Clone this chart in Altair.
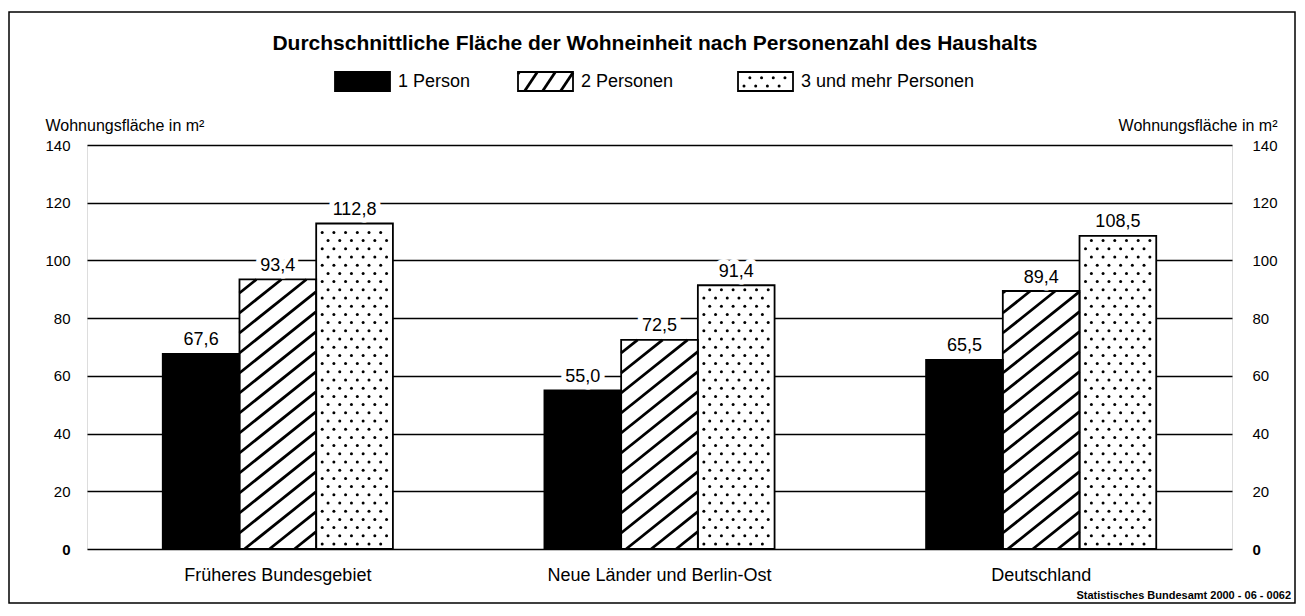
import json
import pandas as pd
import altair as alt

# ---------------- data ----------------
categories = ["Früheres Bundesgebiet", "Neue Länder und Berlin-Ost", "Deutschland"]
series = ["1 Person", "2 Personen", "3 und mehr Personen"]
values_1_person = [67.6, 55.0, 65.5]
values_2_personen = [93.4, 72.5, 89.4]
values_3_personen = [112.8, 91.4, 108.5]
y_ticks = [0, 20, 40, 60, 80, 100, 120, 140]

title_text = "Durchschnittliche Fläche der Wohneinheit nach Personenzahl des Haushalts"
axis_title = "Wohnungsfläche in m²"
source_text = "Statistisches Bundesamt 2000 - 06 - 0062"

# ---------------- layout ----------------
FONT = "Liberation Sans"
W, H = 1145, 404
PAD = {"left": 79, "top": 137, "right": 64, "bottom": 55}
YMAX = 140
NGROUPS = len(categories)
PXX = W / NGROUPS          # px per x unit
PXY = H / YMAX             # px per y unit
BAR_W = 0.201              # bar width in group units
fills = ["black", "white", "white"]
patterns = ["solid", "hatch", "dots"]


def stripe_segments(w_px, h_px, slope, step, phase):
    out = []
    for k in range(-80, 120):
        c = phase + k * step
        xs = max(0.0, -c / slope)
        xe = min(w_px, (h_px - c) / slope)
        if xe - xs > 1.0:
            out.append((xs, slope * xs + c, xe, slope * xe + c))
    return out


def dot_points(w_px, h_px, dx, dy, x_first, y_first):
    pts = []
    r = 0
    yy = y_first
    while yy < h_px - 2:
        xx = x_first + (dx / 2 if r % 2 else 0)
        while xx < w_px - 3:
            pts.append((xx, yy))
            xx += dx
        yy += dy
        r += 1
    return pts


all_values = [values_1_person, values_2_personen, values_3_personen]
rows, hatch_rows, dot_rows = [], [], []
for gi, cat in enumerate(categories):
    for si, s in enumerate(series):
        v = all_values[si][gi]
        c = gi + 0.5 + (si - 1) * BAR_W
        x0 = c - BAR_W / 2
        rows.append(dict(category=cat, series=s, value=v, base=0.0,
                         x0=x0, x1=c + BAR_W / 2, xc=c,
                         label=f"{v:.1f}".replace(".", ",")))
        wpx, hpx = BAR_W * PXX, v * PXY
        if patterns[si] == "hatch":
            for (xs, ys, xe, ye) in stripe_segments(wpx, hpx, 0.8, 20, -4):
                hatch_rows.append(dict(hx0=x0 + xs / PXX, hy0=ys / PXY,
                                       hx1=x0 + xe / PXX, hy1=ye / PXY))
        elif patterns[si] == "dots":
            for (px, py) in dot_points(wpx, hpx, 11.7, 8.2, 6, 5):
                dot_rows.append(dict(dx=x0 + px / PXX, dy=py / PXY))

bars = pd.DataFrame(rows)
hatch = pd.DataFrame(hatch_rows)
dots = pd.DataFrame(dot_rows)
cats = pd.DataFrame({"category": categories,
                     "xc": [i + 0.5 for i in range(NGROUPS)]})

# legend (pixel coordinates relative to plot origin)
legend_left = [248, 431, 651]
SW, SH = 55, 19
LEG_TOP = -73
leg_rows, leg_hatch, leg_dots = [], [], []
for si, s in enumerate(series):
    lx = legend_left[si]
    leg_rows.append(dict(series=s, lx0=lx, lx1=lx + SW, ly0=LEG_TOP, ly1=LEG_TOP + SH,
                         tx=lx + SW + 8, ty=LEG_TOP + SH / 2))
    if patterns[si] == "hatch":
        for (xs, ys, xe, ye) in stripe_segments(SW, SH, 1.5, 27, -10):
            leg_hatch.append(dict(hx0=lx + xs, hy0=LEG_TOP + SH - ys,
                                  hx1=lx + xe, hy1=LEG_TOP + SH - ye))
    elif patterns[si] == "dots":
        for (px, py) in dot_points(SW, SH, 11.7, 8.2, 6, 5):
            leg_dots.append(dict(dx=lx + px, dy=LEG_TOP + SH - py))
legend_df = pd.DataFrame(leg_rows)
legend_hatch = pd.DataFrame(leg_hatch)
legend_dots = pd.DataFrame(leg_dots)

# ---------------- encodings ----------------
xscale = alt.Scale(domain=[0, NGROUPS], nice=False, zero=False)
yscale = alt.Scale(domain=[0, YMAX], nice=False, zero=True)
bold_zero = {"condition": {"test": "datum.value === 0", "value": "bold"}, "value": "normal"}
left_axis = alt.Axis(orient="left", values=y_ticks, grid=True, gridColor="black",
                     gridWidth=1.5, gridOpacity=1, ticks=False, domain=False,
                     labelPadding=17, labelFontSize=15, labelColor="black",
                     labelFontWeight=bold_zero, labelFont=FONT,
                     title=axis_title, titleAngle=0, titleX=-42, titleY=-20,
                     titleAlign="left", titleBaseline="middle", titleFontSize=16,
                     titleFontWeight="normal", titleColor="black", titleFont=FONT)
right_axis = alt.Axis(orient="right", values=y_ticks, grid=False, ticks=False,
                      domain=False, labelPadding=20, labelFontSize=15,
                      labelColor="black", labelFontWeight=bold_zero, labelFont=FONT,
                      title=axis_title, titleAngle=0, titleX=45, titleY=-20,
                      titleAlign="right", titleBaseline="middle", titleFontSize=16,
                      titleFontWeight="normal", titleColor="black", titleFont=FONT)
color = alt.Color("series:N", scale=alt.Scale(domain=series, range=fills), legend=None)

# ---------------- layers ----------------
frame = alt.Chart(alt.Data(values=[{}])).mark_rect(
    fill="white", fillOpacity=0, stroke="black", strokeWidth=1.5
).encode(x=alt.value(-78), x2=alt.value(1208), y=alt.value(-133), y2=alt.value(458))

bar_fill = alt.Chart(bars).mark_rect(strokeWidth=0).encode(
    x=alt.X("x0:Q", scale=xscale, axis=None), x2="x1:Q",
    y=alt.Y("value:Q", scale=yscale, axis=left_axis), y2="base:Q",
    color=color,
)

hatch_layer = alt.Chart(hatch).mark_rule(color="black", strokeWidth=2.8).encode(
    x=alt.X("hx0:Q", scale=xscale, axis=None), x2="hx1:Q",
    y=alt.Y("hy0:Q", scale=yscale, axis=None), y2="hy1:Q",
)

dot_layer = alt.Chart(dots).mark_circle(color="black", size=9, opacity=1).encode(
    x=alt.X("dx:Q", scale=xscale, axis=None),
    y=alt.Y("dy:Q", scale=yscale, axis=None),
)

bar_outline = alt.Chart(bars).mark_rect(
    fill="white", fillOpacity=0, stroke="black", strokeWidth=1.8
).encode(
    x=alt.X("x0:Q", scale=xscale, axis=None), x2="x1:Q",
    y=alt.Y("value:Q", scale=yscale, axis=right_axis), y2="base:Q",
)

label_halo = alt.Chart(bars).mark_text(
    fontSize=18, font=FONT, color="white", stroke="white", strokeWidth=10,
    strokeJoin="round", baseline="alphabetic", dy=-8.5
).encode(
    x=alt.X("xc:Q", scale=xscale, axis=None),
    y=alt.Y("value:Q", scale=yscale, axis=None),
    text="label:N",
)

labels = alt.Chart(bars).mark_text(
    fontSize=18, font=FONT, color="black", baseline="alphabetic", dy=-8.5
).encode(
    x=alt.X("xc:Q", scale=xscale, axis=None),
    y=alt.Y("value:Q", scale=yscale, axis=None),
    text="label:N",
)

cat_labels = alt.Chart(cats).mark_text(
    fontSize=18, font=FONT, color="black", baseline="middle", align="center"
).encode(
    x=alt.X("xc:Q", scale=xscale, axis=None),
    y=alt.value(H + 27),
    text="category:N",
)

title = alt.Chart(alt.Data(values=[{}])).mark_text(
    text=title_text, fontSize=21, fontWeight="bold", font=FONT, color="black",
    align="center", baseline="middle"
).encode(x=alt.value(568), y=alt.value(-101))

source = alt.Chart(alt.Data(values=[{}])).mark_text(
    text=source_text, fontSize=11, fontWeight="bold", font=FONT, color="black",
    align="right", baseline="middle"
).encode(x=alt.value(1204), y=alt.value(451))

leg_fill = alt.Chart(legend_df).mark_rect(strokeWidth=0).encode(
    x=alt.X("lx0:Q", scale=None, axis=None), x2="lx1:Q",
    y=alt.Y("ly0:Q", scale=None, axis=None), y2="ly1:Q",
    color=color,
)
leg_hatch_layer = alt.Chart(legend_hatch).mark_rule(color="black", strokeWidth=2.8).encode(
    x=alt.X("hx0:Q", scale=None, axis=None), x2="hx1:Q",
    y=alt.Y("hy0:Q", scale=None, axis=None), y2="hy1:Q",
)
leg_dot_layer = alt.Chart(legend_dots).mark_circle(color="black", size=9, opacity=1).encode(
    x=alt.X("dx:Q", scale=None, axis=None),
    y=alt.Y("dy:Q", scale=None, axis=None),
)
leg_outline = alt.Chart(legend_df).mark_rect(
    fill="white", fillOpacity=0, stroke="black", strokeWidth=1.8
).encode(
    x=alt.X("lx0:Q", scale=None, axis=None), x2="lx1:Q",
    y=alt.Y("ly0:Q", scale=None, axis=None), y2="ly1:Q",
)
leg_text = alt.Chart(legend_df).mark_text(
    fontSize=18, font=FONT, color="black", align="left", baseline="middle"
).encode(
    x=alt.X("tx:Q", scale=None, axis=None),
    y=alt.Y("ty:Q", scale=None, axis=None),
    text="series:N",
)

chart = alt.layer(
    frame, bar_fill, hatch_layer, dot_layer, bar_outline, label_halo, labels,
    cat_labels, title, source, leg_fill, leg_hatch_layer, leg_dot_layer,
    leg_outline, leg_text,
).resolve_axis(y="independent").properties(
    width=W, height=H, padding=PAD, autosize=alt.AutoSizeParams(type="none"),
    background="white",
).configure_view(stroke="black", strokeWidth=1.5).configure(font=FONT)

chart.save("out.html", embed_options={"renderer": "svg", "actions": False})
